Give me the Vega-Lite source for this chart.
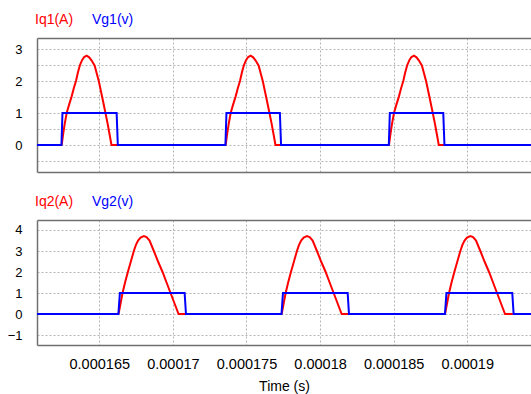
{
  "$schema": "https://vega.github.io/schema/vega-lite/v6.json",
  "background": "white",
  "padding": {"left": 0, "top": 13, "right": 0, "bottom": 0},
  "config": {
    "font": "Liberation Sans, Arial, sans-serif",
    "view": {"stroke": null},
    "axis": {
      "gridColor": "#b4b4b4", "gridDash": [2, 2], "gridWidth": 1,
      "domainColor": "#707070", "domainWidth": 1.5,
      "ticks": false, "labelColor": "#000000", "labelOverlap": false,
      "labelFont": "Liberation Sans, Arial, sans-serif",
      "titleFont": "Liberation Sans, Arial, sans-serif",
      "titleFontSize": 14, "titleFontWeight": "normal", "titleColor": "#000000"
    },
    "axisY": {"labelFontSize": 13, "labelOverlap": false},
    "axisX": {"labelFontSize": 14.5},
    "legend": {
      "labelFont": "Liberation Sans, Arial, sans-serif",
      "labelFontSize": 14
    }
  },
  "spacing": 23,
  "resolve": {"scale": {"color": "independent"}, "legend": {"color": "independent"}},
  "vconcat": [
    {
      "width": 494,
      "height": 134,
      "data": {"values": [
        {"t": 0.000162446, "v": 0, "s": "Iq1(A)", "k": 1},
        {"t": 0.000162548, "v": 0.35, "s": "Iq1(A)", "k": 1},
        {"t": 0.00016265, "v": 0.65, "s": "Iq1(A)", "k": 1},
        {"t": 0.000162786, "v": 1, "s": "Iq1(A)", "k": 1},
        {"t": 0.000162956, "v": 1.27, "s": "Iq1(A)", "k": 1},
        {"t": 0.000163125, "v": 1.52, "s": "Iq1(A)", "k": 1},
        {"t": 0.000163261, "v": 1.76, "s": "Iq1(A)", "k": 1},
        {"t": 0.000163418, "v": 2, "s": "Iq1(A)", "k": 1},
        {"t": 0.000163553, "v": 2.27, "s": "Iq1(A)", "k": 1},
        {"t": 0.000163689, "v": 2.5, "s": "Iq1(A)", "k": 1},
        {"t": 0.000163839, "v": 2.66, "s": "Iq1(A)", "k": 1},
        {"t": 0.000163975, "v": 2.75, "s": "Iq1(A)", "k": 1},
        {"t": 0.000164144, "v": 2.79, "s": "Iq1(A)", "k": 1},
        {"t": 0.000164314, "v": 2.74, "s": "Iq1(A)", "k": 1},
        {"t": 0.000164484, "v": 2.64, "s": "Iq1(A)", "k": 1},
        {"t": 0.000164688, "v": 2.48, "s": "Iq1(A)", "k": 1},
        {"t": 0.000164824, "v": 2.24, "s": "Iq1(A)", "k": 1},
        {"t": 0.000164966, "v": 2, "s": "Iq1(A)", "k": 1},
        {"t": 0.000165197, "v": 1.5, "s": "Iq1(A)", "k": 1},
        {"t": 0.000165422, "v": 1, "s": "Iq1(A)", "k": 1},
        {"t": 0.000165571, "v": 0.66, "s": "Iq1(A)", "k": 1},
        {"t": 0.000165693, "v": 0.35, "s": "Iq1(A)", "k": 1},
        {"t": 0.000165829, "v": 0, "s": "Iq1(A)", "k": 1},
        {"t": 0.00016622, "v": 0, "s": "Iq1(A)", "k": 1},
        {"t": 0.000173587, "v": 0, "s": "Iq1(A)", "k": 2},
        {"t": 0.000173689, "v": 0.35, "s": "Iq1(A)", "k": 2},
        {"t": 0.000173791, "v": 0.65, "s": "Iq1(A)", "k": 2},
        {"t": 0.000173927, "v": 1, "s": "Iq1(A)", "k": 2},
        {"t": 0.000174097, "v": 1.27, "s": "Iq1(A)", "k": 2},
        {"t": 0.000174266, "v": 1.52, "s": "Iq1(A)", "k": 2},
        {"t": 0.000174402, "v": 1.76, "s": "Iq1(A)", "k": 2},
        {"t": 0.000174559, "v": 2, "s": "Iq1(A)", "k": 2},
        {"t": 0.000174694, "v": 2.27, "s": "Iq1(A)", "k": 2},
        {"t": 0.00017483, "v": 2.5, "s": "Iq1(A)", "k": 2},
        {"t": 0.00017498, "v": 2.66, "s": "Iq1(A)", "k": 2},
        {"t": 0.000175116, "v": 2.75, "s": "Iq1(A)", "k": 2},
        {"t": 0.000175285, "v": 2.79, "s": "Iq1(A)", "k": 2},
        {"t": 0.000175455, "v": 2.74, "s": "Iq1(A)", "k": 2},
        {"t": 0.000175625, "v": 2.64, "s": "Iq1(A)", "k": 2},
        {"t": 0.000175829, "v": 2.48, "s": "Iq1(A)", "k": 2},
        {"t": 0.000175965, "v": 2.24, "s": "Iq1(A)", "k": 2},
        {"t": 0.000176107, "v": 2, "s": "Iq1(A)", "k": 2},
        {"t": 0.000176338, "v": 1.5, "s": "Iq1(A)", "k": 2},
        {"t": 0.000176563, "v": 1, "s": "Iq1(A)", "k": 2},
        {"t": 0.000176712, "v": 0.66, "s": "Iq1(A)", "k": 2},
        {"t": 0.000176834, "v": 0.35, "s": "Iq1(A)", "k": 2},
        {"t": 0.00017697, "v": 0, "s": "Iq1(A)", "k": 2},
        {"t": 0.00017731, "v": 0, "s": "Iq1(A)", "k": 2},
        {"t": 0.000184681, "v": 0, "s": "Iq1(A)", "k": 3},
        {"t": 0.000184783, "v": 0.35, "s": "Iq1(A)", "k": 3},
        {"t": 0.000184885, "v": 0.65, "s": "Iq1(A)", "k": 3},
        {"t": 0.000185021, "v": 1, "s": "Iq1(A)", "k": 3},
        {"t": 0.000185191, "v": 1.27, "s": "Iq1(A)", "k": 3},
        {"t": 0.00018536, "v": 1.52, "s": "Iq1(A)", "k": 3},
        {"t": 0.000185496, "v": 1.76, "s": "Iq1(A)", "k": 3},
        {"t": 0.000185653, "v": 2, "s": "Iq1(A)", "k": 3},
        {"t": 0.000185788, "v": 2.27, "s": "Iq1(A)", "k": 3},
        {"t": 0.000185924, "v": 2.5, "s": "Iq1(A)", "k": 3},
        {"t": 0.000186074, "v": 2.66, "s": "Iq1(A)", "k": 3},
        {"t": 0.00018621, "v": 2.75, "s": "Iq1(A)", "k": 3},
        {"t": 0.000186379, "v": 2.79, "s": "Iq1(A)", "k": 3},
        {"t": 0.000186549, "v": 2.74, "s": "Iq1(A)", "k": 3},
        {"t": 0.000186719, "v": 2.64, "s": "Iq1(A)", "k": 3},
        {"t": 0.000186923, "v": 2.48, "s": "Iq1(A)", "k": 3},
        {"t": 0.000187059, "v": 2.24, "s": "Iq1(A)", "k": 3},
        {"t": 0.000187201, "v": 2, "s": "Iq1(A)", "k": 3},
        {"t": 0.000187432, "v": 1.5, "s": "Iq1(A)", "k": 3},
        {"t": 0.000187657, "v": 1, "s": "Iq1(A)", "k": 3},
        {"t": 0.000187806, "v": 0.66, "s": "Iq1(A)", "k": 3},
        {"t": 0.000187928, "v": 0.35, "s": "Iq1(A)", "k": 3},
        {"t": 0.000188064, "v": 0, "s": "Iq1(A)", "k": 3},
        {"t": 0.00018841, "v": 0, "s": "Iq1(A)", "k": 3},
        {"t": 0.00016077, "v": 0, "s": "Vg1(v)"},
        {"t": 0.00016243, "v": 0, "s": "Vg1(v)"},
        {"t": 0.0001625, "v": 1, "s": "Vg1(v)"},
        {"t": 0.00016618, "v": 1, "s": "Vg1(v)"},
        {"t": 0.00016626, "v": 0, "s": "Vg1(v)"},
        {"t": 0.00017357, "v": 0, "s": "Vg1(v)"},
        {"t": 0.00017364, "v": 1, "s": "Vg1(v)"},
        {"t": 0.00017727, "v": 1, "s": "Vg1(v)"},
        {"t": 0.00017735, "v": 0, "s": "Vg1(v)"},
        {"t": 0.00018467, "v": 0, "s": "Vg1(v)"},
        {"t": 0.00018474, "v": 1, "s": "Vg1(v)"},
        {"t": 0.00018837, "v": 1, "s": "Vg1(v)"},
        {"t": 0.00018845, "v": 0, "s": "Vg1(v)"},
        {"t": 0.00019433, "v": 0, "s": "Vg1(v)"}
      ]},
      "layer": [
        {
          "transform": [{"filter": "datum.s == 'Iq1(A)'"}],
          "mark": {"type": "line", "strokeWidth": 2, "clip": true},
          "encoding": {
            "x": {"field": "t", "type": "quantitative",
              "scale": {"domain": [0.00016077, 0.00019433], "nice": false, "zero": false},
              "axis": {"orient": "bottom", "values": [0.000165, 0.00017, 0.000175, 0.00018, 0.000185, 0.00019],
                "labels": false, "title": null, "grid": true, "domain": true, "minExtent": 0, "maxExtent": 0}},
            "y": {"field": "v", "type": "quantitative",
              "scale": {"domain": [-0.84375, 3.34375], "nice": false, "zero": false},
              "axis": {"values": [-0.5, 0, 0.5, 1, 1.5, 2, 2.5, 3],
                "labelExpr": "datum.value % 1 == 0 ? format(datum.value, 'd') : ''", "labelOverlap": false,
                "title": null, "labelPadding": 15, "minExtent": 37, "maxExtent": 37}},
            "detail": {"field": "k"},
            "color": {"field": "s", "type": "nominal",
              "scale": {"domain": ["Iq1(A)", "Vg1(v)"], "range": ["#ff0000", "#0000ff"]},
              "legend": {"orient": "top", "direction": "horizontal", "title": null,
                "symbolSize": 0, "symbolStrokeWidth": 0, "symbolOpacity": 0,
                "labelOffset": -16, "columnPadding": 18, "offset": 11, "padding": 0,
                "encode": {"labels": {"update": {"fill": {"signal": "indexof(datum.label, 'V') == 0 ? '#0000ff' : '#ff0000'"}}}}}}
          }
        },
        {
          "transform": [{"filter": "datum.s == 'Vg1(v)'"}],
          "mark": {"type": "line", "strokeWidth": 2, "clip": true},
          "encoding": {
            "x": {"field": "t", "type": "quantitative", "axis": null},
            "y": {"field": "v", "type": "quantitative",
              "axis": {"values": [-0.5, 0, 0.5, 1, 1.5, 2, 2.5, 3],
                "labelExpr": "datum.value % 1 == 0 ? format(datum.value, 'd') : ''", "labelOverlap": false,
                "title": null, "labelPadding": 15, "minExtent": 37, "maxExtent": 37}},
            "color": {"field": "s", "type": "nominal"}
          }
        },
        {
          "mark": {"type": "line", "opacity": 0},
          "encoding": {
            "x": {"field": "t", "type": "quantitative",
              "axis": {"orient": "top", "labels": false, "grid": false, "title": null, "domain": true, "minExtent": 0, "maxExtent": 0}},
            "y": {"field": "v", "type": "quantitative",
              "axis": {"values": [-0.5, 0, 0.5, 1, 1.5, 2, 2.5, 3],
                "labelExpr": "datum.value % 1 == 0 ? format(datum.value, 'd') : ''", "labelOverlap": false,
                "title": null, "labelPadding": 15, "minExtent": 37, "maxExtent": 37}}
          }
        }
      ],
      "resolve": {"axis": {"x": "independent"}}
    },
    {
      "width": 494,
      "height": 125,
      "data": {"values": [
        {"t": 0.00016631, "v": 0, "s": "Iq2(A)", "k": 1},
        {"t": 0.000166446, "v": 0.5, "s": "Iq2(A)", "k": 1},
        {"t": 0.000166582, "v": 1, "s": "Iq2(A)", "k": 1},
        {"t": 0.000166752, "v": 1.5, "s": "Iq2(A)", "k": 1},
        {"t": 0.000166942, "v": 2, "s": "Iq2(A)", "k": 1},
        {"t": 0.000167146, "v": 2.5, "s": "Iq2(A)", "k": 1},
        {"t": 0.000167349, "v": 3, "s": "Iq2(A)", "k": 1},
        {"t": 0.000167485, "v": 3.28, "s": "Iq2(A)", "k": 1},
        {"t": 0.000167635, "v": 3.5, "s": "Iq2(A)", "k": 1},
        {"t": 0.000167805, "v": 3.64, "s": "Iq2(A)", "k": 1},
        {"t": 0.000168029, "v": 3.71, "s": "Iq2(A)", "k": 1},
        {"t": 0.000168212, "v": 3.66, "s": "Iq2(A)", "k": 1},
        {"t": 0.000168416, "v": 3.5, "s": "Iq2(A)", "k": 1},
        {"t": 0.000168708, "v": 3, "s": "Iq2(A)", "k": 1},
        {"t": 0.000168993, "v": 2.5, "s": "Iq2(A)", "k": 1},
        {"t": 0.000169299, "v": 2, "s": "Iq2(A)", "k": 1},
        {"t": 0.000169571, "v": 1.5, "s": "Iq2(A)", "k": 1},
        {"t": 0.000169843, "v": 1, "s": "Iq2(A)", "k": 1},
        {"t": 0.000170114, "v": 0.5, "s": "Iq2(A)", "k": 1},
        {"t": 0.000170386, "v": 0, "s": "Iq2(A)", "k": 1},
        {"t": 0.00017085, "v": 0, "s": "Iq2(A)", "k": 1},
        {"t": 0.00017739, "v": 0, "s": "Iq2(A)", "k": 2},
        {"t": 0.000177526, "v": 0.5, "s": "Iq2(A)", "k": 2},
        {"t": 0.000177662, "v": 1, "s": "Iq2(A)", "k": 2},
        {"t": 0.000177832, "v": 1.5, "s": "Iq2(A)", "k": 2},
        {"t": 0.000178022, "v": 2, "s": "Iq2(A)", "k": 2},
        {"t": 0.000178226, "v": 2.5, "s": "Iq2(A)", "k": 2},
        {"t": 0.000178429, "v": 3, "s": "Iq2(A)", "k": 2},
        {"t": 0.000178565, "v": 3.28, "s": "Iq2(A)", "k": 2},
        {"t": 0.000178715, "v": 3.5, "s": "Iq2(A)", "k": 2},
        {"t": 0.000178885, "v": 3.64, "s": "Iq2(A)", "k": 2},
        {"t": 0.000179109, "v": 3.71, "s": "Iq2(A)", "k": 2},
        {"t": 0.000179292, "v": 3.66, "s": "Iq2(A)", "k": 2},
        {"t": 0.000179496, "v": 3.5, "s": "Iq2(A)", "k": 2},
        {"t": 0.000179788, "v": 3, "s": "Iq2(A)", "k": 2},
        {"t": 0.000180073, "v": 2.5, "s": "Iq2(A)", "k": 2},
        {"t": 0.000180379, "v": 2, "s": "Iq2(A)", "k": 2},
        {"t": 0.000180651, "v": 1.5, "s": "Iq2(A)", "k": 2},
        {"t": 0.000180923, "v": 1, "s": "Iq2(A)", "k": 2},
        {"t": 0.000181194, "v": 0.5, "s": "Iq2(A)", "k": 2},
        {"t": 0.000181466, "v": 0, "s": "Iq2(A)", "k": 2},
        {"t": 0.00018192, "v": 0, "s": "Iq2(A)", "k": 2},
        {"t": 0.00018849, "v": 0, "s": "Iq2(A)", "k": 3},
        {"t": 0.000188626, "v": 0.5, "s": "Iq2(A)", "k": 3},
        {"t": 0.000188762, "v": 1, "s": "Iq2(A)", "k": 3},
        {"t": 0.000188932, "v": 1.5, "s": "Iq2(A)", "k": 3},
        {"t": 0.000189122, "v": 2, "s": "Iq2(A)", "k": 3},
        {"t": 0.000189326, "v": 2.5, "s": "Iq2(A)", "k": 3},
        {"t": 0.000189529, "v": 3, "s": "Iq2(A)", "k": 3},
        {"t": 0.000189665, "v": 3.28, "s": "Iq2(A)", "k": 3},
        {"t": 0.000189815, "v": 3.5, "s": "Iq2(A)", "k": 3},
        {"t": 0.000189985, "v": 3.64, "s": "Iq2(A)", "k": 3},
        {"t": 0.000190209, "v": 3.71, "s": "Iq2(A)", "k": 3},
        {"t": 0.000190392, "v": 3.66, "s": "Iq2(A)", "k": 3},
        {"t": 0.000190596, "v": 3.5, "s": "Iq2(A)", "k": 3},
        {"t": 0.000190888, "v": 3, "s": "Iq2(A)", "k": 3},
        {"t": 0.000191173, "v": 2.5, "s": "Iq2(A)", "k": 3},
        {"t": 0.000191479, "v": 2, "s": "Iq2(A)", "k": 3},
        {"t": 0.000191751, "v": 1.5, "s": "Iq2(A)", "k": 3},
        {"t": 0.000192023, "v": 1, "s": "Iq2(A)", "k": 3},
        {"t": 0.000192294, "v": 0.5, "s": "Iq2(A)", "k": 3},
        {"t": 0.000192566, "v": 0, "s": "Iq2(A)", "k": 3},
        {"t": 0.0001931, "v": 0, "s": "Iq2(A)", "k": 3},
        {"t": 0.00016077, "v": 0, "s": "Vg2(v)"},
        {"t": 0.0001663, "v": 0, "s": "Vg2(v)"},
        {"t": 0.0001664, "v": 1, "s": "Vg2(v)"},
        {"t": 0.0001708, "v": 1, "s": "Vg2(v)"},
        {"t": 0.00017089, "v": 0, "s": "Vg2(v)"},
        {"t": 0.00017738, "v": 0, "s": "Vg2(v)"},
        {"t": 0.00017748, "v": 1, "s": "Vg2(v)"},
        {"t": 0.000181875, "v": 1, "s": "Vg2(v)"},
        {"t": 0.000181965, "v": 0, "s": "Vg2(v)"},
        {"t": 0.000188485, "v": 0, "s": "Vg2(v)"},
        {"t": 0.000188585, "v": 1, "s": "Vg2(v)"},
        {"t": 0.000193057, "v": 1, "s": "Vg2(v)"},
        {"t": 0.00019315, "v": 0, "s": "Vg2(v)"},
        {"t": 0.00019433, "v": 0, "s": "Vg2(v)"}
      ]},
      "layer": [
        {
          "transform": [{"filter": "datum.s == 'Iq2(A)'"}],
          "mark": {"type": "line", "strokeWidth": 2, "clip": true},
          "encoding": {
            "x": {"field": "t", "type": "quantitative",
              "scale": {"domain": [0.00016077, 0.00019433], "nice": false, "zero": false},
              "axis": {"orient": "bottom", "values": [0.000165, 0.00017, 0.000175, 0.00018, 0.000185, 0.00019],
                "format": ".6~f", "title": "Time (s)", "grid": true, "domain": true,
                "labelPadding": 12, "titlePadding": 9}},
            "y": {"field": "v", "type": "quantitative",
              "scale": {"domain": [-1.47619, 4.47619], "nice": false, "zero": false},
              "axis": {"values": [-1, 0, 1, 2, 3, 4], "labelOverlap": false,
                "title": null, "labelPadding": 15, "minExtent": 37, "maxExtent": 37}},
            "detail": {"field": "k"},
            "color": {"field": "s", "type": "nominal",
              "scale": {"domain": ["Iq2(A)", "Vg2(v)"], "range": ["#ff0000", "#0000ff"]},
              "legend": {"orient": "top", "direction": "horizontal", "title": null,
                "symbolSize": 0, "symbolStrokeWidth": 0, "symbolOpacity": 0,
                "labelOffset": -16, "columnPadding": 18, "offset": 11, "padding": 0,
                "encode": {"labels": {"update": {"fill": {"signal": "indexof(datum.label, 'V') == 0 ? '#0000ff' : '#ff0000'"}}}}}}
          }
        },
        {
          "transform": [{"filter": "datum.s == 'Vg2(v)'"}],
          "mark": {"type": "line", "strokeWidth": 2, "clip": true},
          "encoding": {
            "x": {"field": "t", "type": "quantitative", "axis": null},
            "y": {"field": "v", "type": "quantitative",
              "axis": {"values": [-1, 0, 1, 2, 3, 4], "labelOverlap": false,
                "title": null, "labelPadding": 15, "minExtent": 37, "maxExtent": 37}},
            "color": {"field": "s", "type": "nominal"}
          }
        },
        {
          "mark": {"type": "line", "opacity": 0},
          "encoding": {
            "x": {"field": "t", "type": "quantitative",
              "axis": {"orient": "top", "labels": false, "grid": false, "title": null, "domain": true, "minExtent": 0, "maxExtent": 0}},
            "y": {"field": "v", "type": "quantitative",
              "axis": {"values": [-1, 0, 1, 2, 3, 4], "labelOverlap": false,
                "title": null, "labelPadding": 15, "minExtent": 37, "maxExtent": 37}}
          }
        }
      ],
      "resolve": {"axis": {"x": "independent"}}
    }
  ]
}
